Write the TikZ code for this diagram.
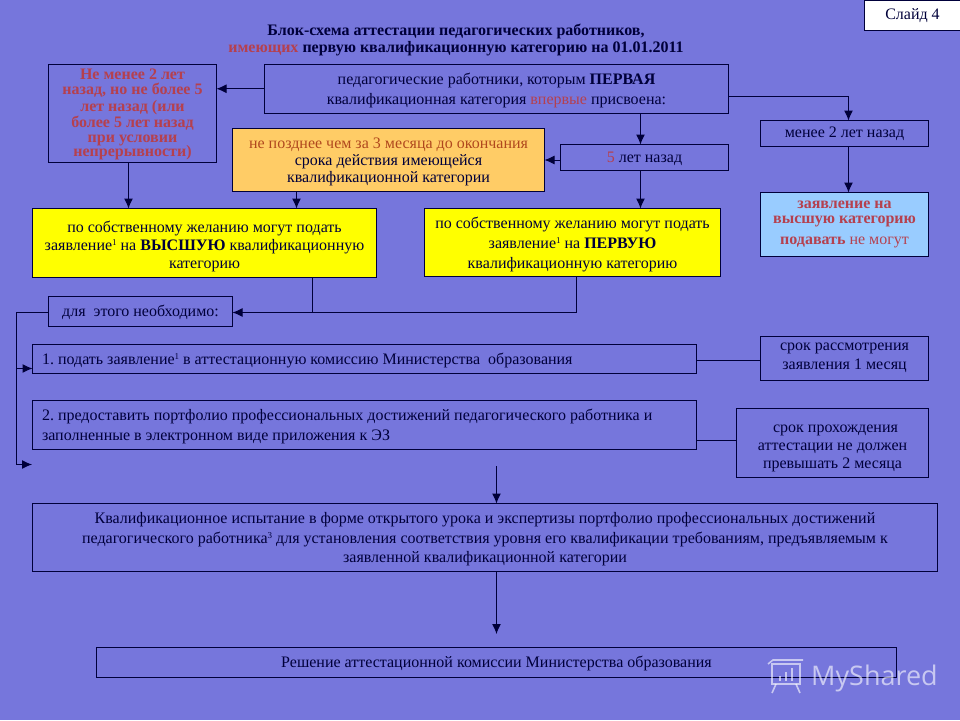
\documentclass[tikz,border=0pt]{standalone}
\usepackage{fontspec}
\setmainfont{Liberation Serif}
\newfontfamily\wmfont{Open Sans}
\usetikzlibrary{arrows.meta}
\definecolor{bgc}{HTML}{7676DC}
\definecolor{ink}{HTML}{00003A}
\definecolor{redt}{HTML}{B5404E}
\definecolor{oran}{HTML}{FFCC66}
\definecolor{yell}{HTML}{FFFF00}
\definecolor{ltbl}{HTML}{99CCFF}
\newcommand{\fs}[2]{\fontsize{#1}{#2}\selectfont}
\newcommand{\sups}[1]{\raisebox{5pt}{\fontsize{9}{9}\selectfont #1}}
\newcommand{\sh}[1]{\rule{0pt}{#1pt}}
\tikzset{
  x=1pt,y=-1pt,
  bx/.style={draw=ink,line width=1pt,outer sep=0pt,inner sep=0pt,align=center,text=ink,font=\fs{16}{18}},
  ln/.style={draw=ink,line width=1pt},
  ar/.style={ln,-{Latex[length=10pt,width=9pt]}},
}
\begin{document}
\begin{tikzpicture}
\frenchspacing
\useasboundingbox[fill=bgc] (0,0) rectangle (960,720);
\coordinate (xAG) at (128.5,0);
\coordinate (xCG) at (296.5,0);
\coordinate (xBD) at (640.5,0);
\coordinate (xE) at (848.5,0);
\coordinate (xG) at (312.5,0);
\coordinate (xH) at (576.5,0);
\coordinate (xL) at (16.5,0);
\coordinate (yBE) at (0,96.5);
\coordinate (yI) at (0,312.5);
\coordinate (yD) at (0,160);
\coordinate (yJ) at (0,368.5);
\coordinate (yL) at (0,360.5);
\coordinate (yM) at (0,440.5);
\coordinate (endL) at (32,464.5);
\coordinate (startN) at (496.5,466);
\coordinate (endO) at (496.5,634);

\node[align=center,text=ink,font=\bfseries\fs{16}{17}] (title) at (456,39.5)
  {Блок-схема аттестации педагогических работников,\\
   {\color{redt}имеющих} первую квалификационную категорию на 01.01.2011};
\node[bx,fill=white,minimum width=96,minimum height=30] (slide) at (912.5,15) {\sh{13}Слайд 4};

\node[bx,minimum width=168,minimum height=98,text=redt,font=\bfseries\fs{16}{14.6}] (a) at (132.5,113.5)
  {\sh{13}Не менее 2 лет\\назад, но не более 5\\[3pt]лет назад (или\\более 5 лет назад\\при условии\\непрерывности)};
\node[bx,minimum width=464,minimum height=48.5,font=\fs{16}{20}] (b) at (496.5,88.75)
  {\sh{15}педагогические работники, которым {\bfseries ПЕРВАЯ}\\
   квалификационная категория {\color{redt}впервые} присвоена:};
\node[bx,fill=oran,minimum width=312,minimum height=62.5,font=\fs{16}{17}] (c) at (388.5,159.75)
  {\sh{15}{\color[HTML]{B0481E}не позднее чем за 3 месяца до окончания}\\срока действия имеющейся\\квалификационной категории};
\node[bx,minimum width=168,minimum height=25.5] (d) at (644.5,157.25)
  {\sh{13}{\color{redt}5} лет назад};
\node[bx,minimum width=168,minimum height=25.5] (e) at (844.5,133.25) {менее 2 лет назад};
\node[bx,fill=ltbl,minimum width=168,minimum height=63.5,text=redt,font=\bfseries\fs{16}{15}] (f) at (844.5,224.25)
  {заявление на\\высшую категорию\\[6pt]подавать {\mdseries не могут}};
\node[bx,fill=yell,minimum width=344,minimum height=68.5,font=\fs{16}{18}] (g) at (204.5,242.75)
  {\sh{19}по собственному желанию могут подать\\
   заявление\sups{1} на {\bfseries ВЫСШУЮ} квалификационную\\категорию};
\node[bx,fill=yell,minimum width=296,minimum height=68,font=\fs{16}{20}] (h) at (572.5,242.5)
  {\sh{15}по собственному желанию могут подать\\
   заявление\sups{1} на {\bfseries ПЕРВУЮ}\\квалификационную категорию};
\node[bx,minimum width=184,minimum height=29.5] (i) at (140.5,311.25) {\sh{13}для\ \ этого необходимо:};
\node[bx,minimum width=664,minimum height=28.5,align=flush left,text width=645] (j) at (364.5,358.75)
  {\sh{15}1. подать заявление\sups{1} в аттестационную комиссию Министерства\ \ образования};
\node[bx,minimum width=664,minimum height=48.5,align=flush left,text width=645,font=\fs{16}{20}] (k) at (364.5,424.75)
  {\sh{15}2. предоставить портфолио профессиональных достижений педагогического работника и\\
   заполненные в электронном виде приложения к ЭЗ};
\node[bx,minimum width=168,minimum height=43.5,font=\fs{16}{19}] (l) at (844.5,358.25)
  {срок рассмотрения\\заявления 1 месяц};
\node[bx,minimum width=192,minimum height=68.5,font=\fs{16}{18}] (m) at (832.5,442.75)
  {\sh{19}\hspace*{6pt}срок прохождения\\аттестации не должен\\превышать 2 месяца};
\node[bx,minimum width=905,minimum height=67.5,font=\fs{16}{19.5}] (n) at (485,537.25)
  {\sh{15}Квалификационное испытание в форме открытого урока и экспертизы портфолио профессиональных достижений\\
   педагогического работника\sups{3} для установления соответствия уровня его квалификации требованиям, предъявляемым к\\
   заявленной квалификационной категории};
\node[bx,minimum width=800,minimum height=29.5] (o) at (496.5,662.25)
  {\sh{13}Решение аттестационной комиссии Министерства образования};

\draw[ar] (b.west) -- (a.east |- b.west);
\draw[ar] (b.east |- yBE) -| (e.north -| xE);
\draw[ar] (b.south -| xBD) -- (d.north -| xBD);
\draw[ar] (d.west |- yD) -- (c.east |- yD);
\draw[ar] (d.south -| xBD) -- (h.north -| xBD);
\draw[ar] (e.south -| xE) -- (f.north -| xE);
\draw[ar] (a.south -| xAG) -- (g.north -| xAG);
\draw[ar] (c.south -| xCG) -- (g.north -| xCG);
\draw[ln] (g.south -| xG) -- (yI -| xG);
\draw[ar] (h.south -| xH) -- (yI -| xH) -- (i.east |- yI);
\draw[ln] (i.west |- yI) -- (yI -| xL) -- (endL -| xL);
\draw[ar] (yJ -| xL) -- (j.west |- yJ);
\draw[ar] (endL -| xL) -- (endL);
\draw[ln] (j.east |- yL) -- (l.west |- yL);
\draw[ln] (k.east |- yM) -- (m.west |- yM);
\draw[ar] (startN) -- (n.north -| startN);
\draw[ar] (n.south -| endO) -- (endO);

% watermark
\begin{scope}[draw=white,draw opacity=.6,line width=1.6pt]
  \draw (772,664) rectangle (800,684);
  \draw (768,664) -- (773,660) -- (803,660);
  \draw (776,684) -- (772,693) (796,684) -- (800,693);
  \draw[line width=2.5pt] (780,681) -- (780,676) (786,681) -- (786,672) (792,681) -- (792,668);
\end{scope}
\node[anchor=base west,inner sep=0pt,text=white,text opacity=.6,font=\wmfont\fs{27}{27}] (wm) at (811,685) {MyShared};
\end{tikzpicture}
\end{document}
